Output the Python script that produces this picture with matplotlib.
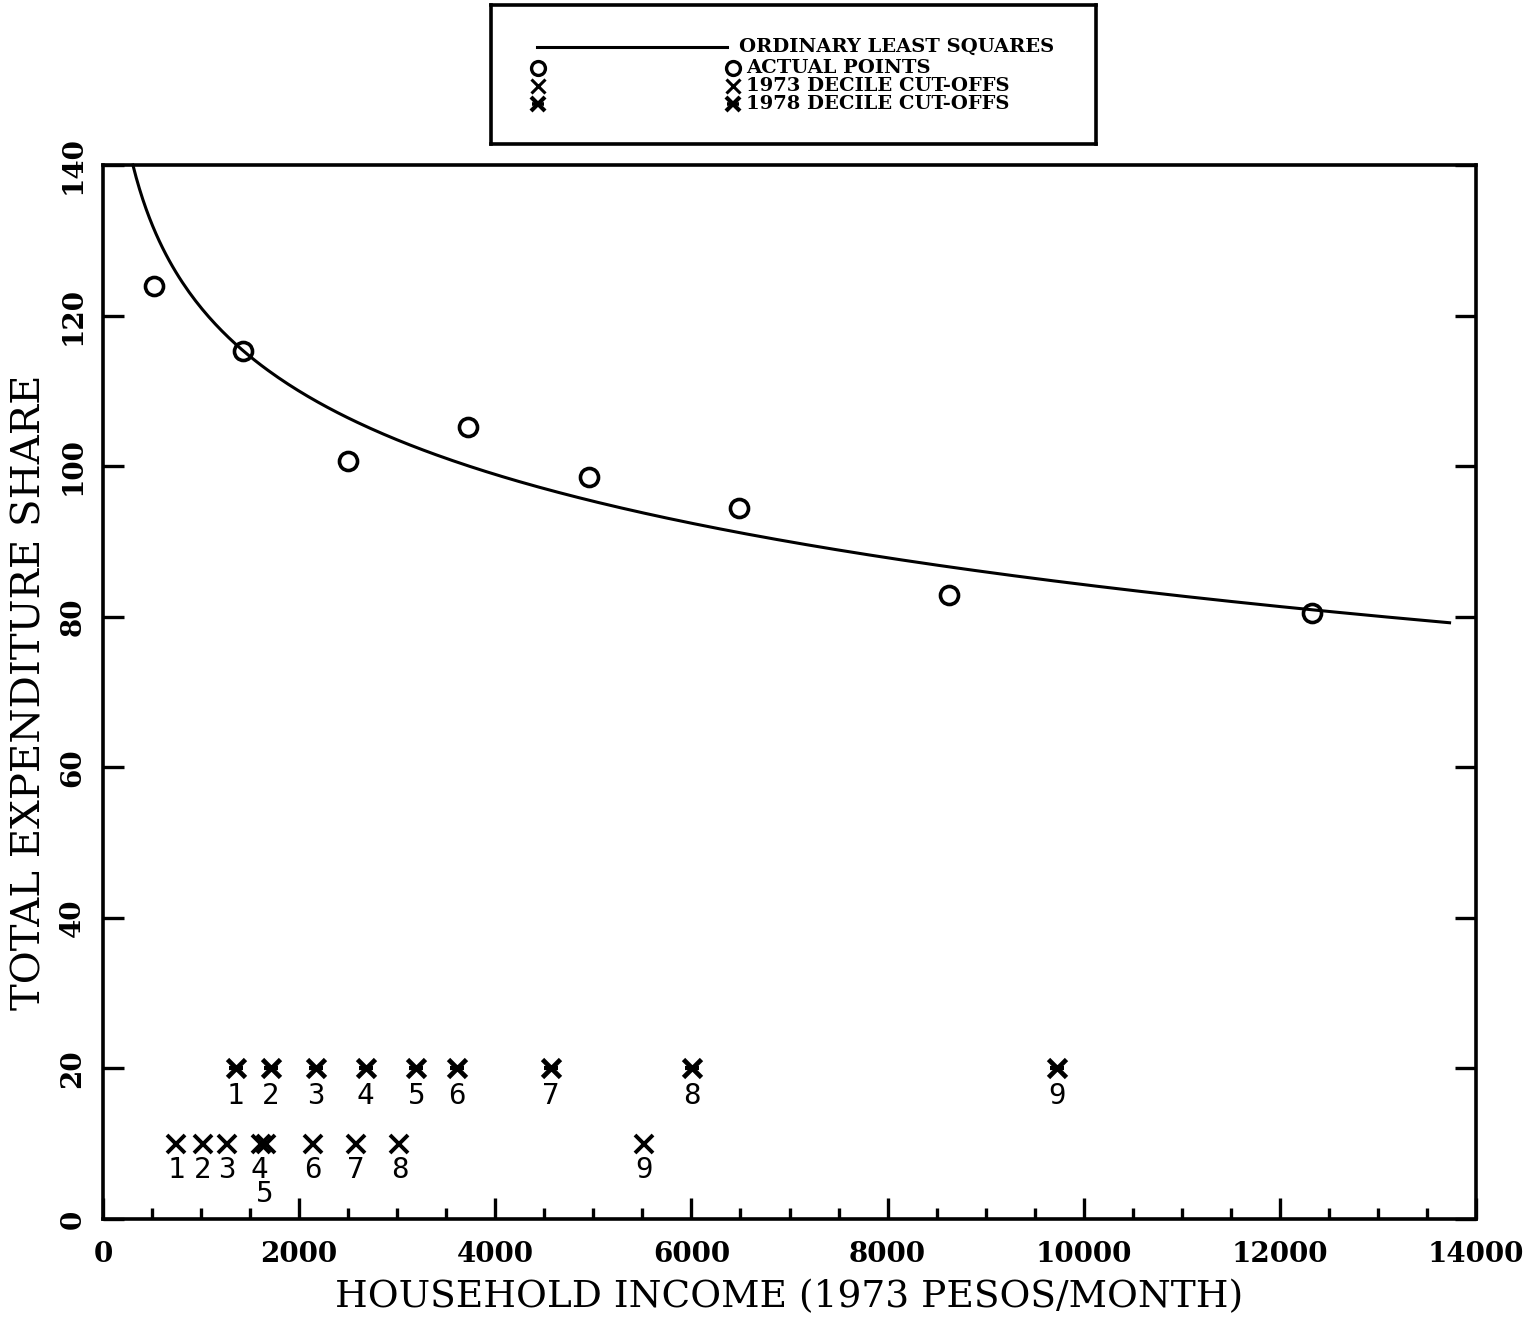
import numpy as np
import matplotlib
matplotlib.use("Agg")
import matplotlib.pyplot as plt
from matplotlib.ticker import MultipleLocator

# ---- data ----
actual_income = [519, 1425, 2494, 3725, 4957, 6483, 8631, 12326]
actual_share = [123.9, 115.3, 100.7, 105.2, 98.6, 94.5, 82.9, 80.5]

cut73_income = [743, 1018, 1262, 1608, 1659, 2137, 2575, 3023, 5517]
cut73_labels = ["1", "2", "3", "4", "5", "6", "7", "8", "9"]
cut73_level = 10

cut78_income = [1354, 1710, 2168, 2677, 3196, 3613, 4570, 6005, 9730]
cut78_labels = ["1", "2", "3", "4", "5", "6", "7", "8", "9"]
cut78_level = 20

# OLS fit: share = a + b * ln(income)
ols_a = 231.35
ols_b = -15.97
ols_range = (305, 13730)

x_ticks = [0, 2000, 4000, 6000, 8000, 10000, 12000, 14000]
y_ticks = [0, 20, 40, 60, 80, 100, 120, 140]

fig = plt.figure(figsize=(15.28, 13.23), dpi=100)
ax = fig.add_axes([0.0674, 0.0786, 0.8986, 0.7967])

serif = "DejaVu Serif"

# OLS curve
xs = np.linspace(ols_range[0], ols_range[1], 400)
ax.plot(xs, ols_a + ols_b * np.log(xs), color="black", lw=2.2, clip_on=False)

# actual points
ax.plot(actual_income, actual_share, "o", ms=13, mfc="none", mec="black", mew=2.6, ls="none")

# 1973 cut-offs
ax.plot(cut73_income, [cut73_level] * len(cut73_income), "x", ms=13, mec="black", mew=2.8, ls="none")
# 1978 cut-offs (x with bar)
ax.plot(cut78_income, [cut78_level] * len(cut78_income), "x", ms=13, mec="black", mew=3.4, ls="none")
ax.plot(cut78_income, [cut78_level] * len(cut78_income), "_", ms=10, mec="black", mew=3.0, ls="none")

label_font = dict(family="DejaVu Sans Mono", fontsize=21, color="black", ha="center", va="center")
for xv, lab in zip(cut73_income, cut73_labels):
    if lab == "5":
        ax.text(xv - 10, cut73_level - 6.7, lab, **label_font)
    elif lab == "4":
        ax.text(xv - 10, cut73_level - 3.5, lab, **label_font)
    else:
        ax.text(xv, cut73_level - 3.5, lab, **label_font)
for xv, lab in zip(cut78_income, cut78_labels):
    ax.text(xv, cut78_level - 3.7, lab, **label_font)

ax.set_xlim(0, 14000)
ax.set_ylim(0, 140)
ax.set_xticks(x_ticks)
ax.set_yticks(y_ticks)
ax.xaxis.set_minor_locator(MultipleLocator(500))
ax.tick_params(axis="both", which="major", direction="in", length=15, width=2.4,
               right=True, top=False)
ax.tick_params(axis="x", which="minor", direction="in", length=8, width=2.4, top=False)
ax.tick_params(axis="y", which="minor", left=False, right=False)
ax.set_xticklabels([str(v) for v in x_ticks], family=serif, fontweight="bold", fontsize=20)
ax.set_yticklabels([str(v) for v in y_ticks], family=serif, fontweight="bold", fontsize=20,
                   rotation=90, va="center")
ax.tick_params(axis="x", pad=16)
ax.tick_params(axis="y", pad=12)
for s in ax.spines.values():
    s.set_linewidth(2.6)

ax.set_xlabel("HOUSEHOLD INCOME (1973 PESOS/MONTH)", family=serif, fontsize=27, labelpad=8)
ax.set_ylabel("TOTAL EXPENDITURE SHARE", family=serif, fontsize=29, labelpad=8)

# legend box
lax = fig.add_axes([0.3213, 0.8912, 0.396, 0.105])
lax.set_xlim(0, 1)
lax.set_ylim(0, 1)
lax.set_xticks([])
lax.set_yticks([])
for s in lax.spines.values():
    s.set_linewidth(2.6)
lf = dict(family=serif, fontweight="bold", fontsize=14, va="center", ha="left")
rows = [0.70, 0.55, 0.42, 0.29]
lax.plot([0.076, 0.39], [rows[0], rows[0]], color="black", lw=2.2)
lax.text(0.41, rows[0], "ORDINARY LEAST SQUARES", **lf)
lax.plot([0.078, 0.40], [rows[1], rows[1]], "o", ms=10, mfc="none", mec="black", mew=2.4)
lax.text(0.422, rows[1], "ACTUAL POINTS", **lf)
lax.plot([0.078, 0.40], [rows[2], rows[2]], "x", ms=10, mec="black", mew=2.2)
lax.text(0.422, rows[2], "1973 DECILE CUT-OFFS", **lf)
lax.plot([0.078, 0.40], [rows[3], rows[3]], "x", ms=10, mec="black", mew=3.0)
lax.plot([0.078, 0.40], [rows[3], rows[3]], "_", ms=8, mec="black", mew=2.6)
lax.text(0.422, rows[3], "1978 DECILE CUT-OFFS", **lf)

fig.savefig("out.png", dpi=100, facecolor="white")
